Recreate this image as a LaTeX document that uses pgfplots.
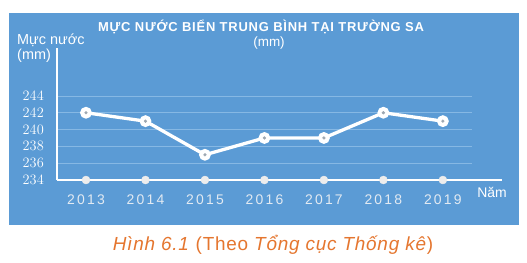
\documentclass[border=0pt]{standalone}
\usepackage{pgfplots}
\pgfplotsset{compat=1.18}
\usepackage{fontspec}
\setmainfont{Liberation Sans}
\definecolor{bg}{HTML}{5B9BD5}
\definecolor{grd}{HTML}{86B8E4}
\definecolor{cap}{HTML}{E5762F}
\definecolor{yr}{HTML}{E2EAF2}
\definecolor{dot}{HTML}{9EA8B2}
\begin{document}
\begin{tikzpicture}[x=1bp,y=1bp]
\fill[white] (0,0) rectangle (527,262);
\fill[bg] (9,37) rectangle (519,249);
\begin{axis}[
  at={(57bp,82bp)}, anchor=south west,
  scale only axis, width=415bp, height=132bp,
  xmin=-0.487, xmax=6.49, ymin=234, ymax=249.7,
  clip=false,
  axis line style={draw=none},
  ymajorgrids, grid style={grd, line width=0.8bp},
  ytick={234,236,238,240,242,244},
  xtick={0,1,2,3,4,5,6},
  xticklabels={2013,2014,2015,2016,2017,2018,2019},
  major tick length=0pt,
  yticklabel style={text=white, font=\fontsize{15.5}{15.5}\selectfont, anchor=east, inner sep=0pt, xshift=-13bp},
  xticklabel style={text=yr, font=\fontsize{14}{14}\selectfont\addfontfeature{LetterSpace=16}, anchor=center, inner sep=0pt, yshift=-20bp},
]
\draw[white, line width=1.6bp] (axis cs:-0.487,234) -- (axis cs:6.99,234);
\draw[white, line width=1.6bp] (axis cs:-0.487,234) -- (axis cs:-0.487,249.7);
\addplot[only marks, mark=*, mark size=4bp, color=white!86!gray] coordinates {(0,234)(1,234)(2,234)(3,234)(4,234)(5,234)(6,234)};
\addplot[white, line width=3.3bp, mark=*, mark size=4.2bp, mark options={fill=white, draw=white}] coordinates {(0,242)(1,241)(2,237)(3,239)(4,239)(5,242)(6,241)};
\addplot[only marks, mark=*, mark size=1.4bp, color=dot] coordinates {(0,242)(1,241)(2,237)(3,239)(4,239)(5,242)(6,241)};
\end{axis}
\node[text=white, font=\fontsize{14.5}{14.5}\selectfont, anchor=west, inner sep=0pt] at (17,222) {Mực nước};
\node[text=white, font=\fontsize{14.5}{14.5}\selectfont, anchor=west, inner sep=0pt] at (17,206) {(mm)};
\node[text=white, font=\bfseries\fontsize{13}{13}\selectfont\addfontfeature{LetterSpace=6}, inner sep=0pt] at (261,235) {MỰC NƯỚC BIỂN TRUNG BÌNH TẠI TRƯỜNG SA};
\node[text=white, font=\fontsize{13.5}{13.5}\selectfont, inner sep=0pt] at (269,219) {(mm)};
\node[text=white, font=\fontsize{14}{14}\selectfont, inner sep=0pt] at (492,70) {Năm};
\node[text=cap, font=\fontsize{19}{19}\selectfont\addfontfeature{LetterSpace=4}, inner sep=0pt] at (273,17.5) {\textit{Hình 6.1} (Theo \textit{Tổng cục Thống kê})};
\end{tikzpicture}
\end{document}
